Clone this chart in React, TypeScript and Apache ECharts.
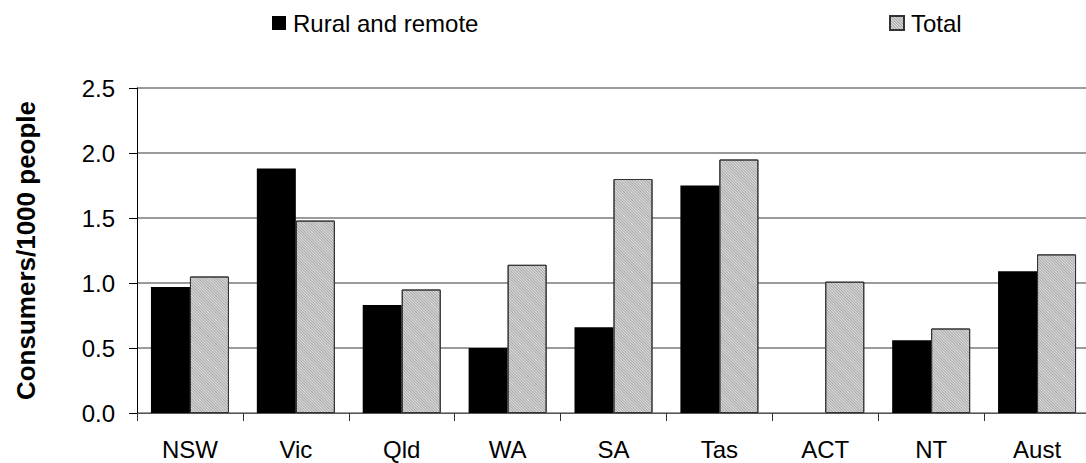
import React, { useEffect, useRef } from 'react';
import * as echarts from 'echarts';

const categories = ['NSW', 'Vic', 'Qld', 'WA', 'SA', 'Tas', 'ACT', 'NT', 'Aust'];
const ruralRemote: (number | null)[] = [0.97, 1.88, 0.83, 0.5, 0.66, 1.75, null, 0.56, 1.09];
const totalValues: number[] = [1.05, 1.48, 0.95, 1.14, 1.8, 1.95, 1.01, 0.65, 1.22];
const seriesNames = ['Rural and remote', 'Total'];
const yAxisTitle = 'Consumers/1000 people';
const yMin = 0;
const yMax = 2.5;
const yStep = 0.5;

const FONT = '"Liberation Sans", Arial, Helvetica, sans-serif';

export default function App() {
  const ref = useRef<HTMLDivElement>(null);
  useEffect(() => {
    if (!ref.current) return;
    const chart = echarts.init(ref.current, undefined, { renderer: 'svg' });
    const hatch = {
      symbol: 'rect',
      symbolSize: 1,
      color: 'rgba(70,70,70,0.38)',
      dashArrayX: [1, 0],
      dashArrayY: [1, 1],
      rotation: Math.PI / 4,
    };
    const legendText = { fontSize: 24, color: '#000', fontFamily: FONT, padding: [0, 0, 0, 2] };
    chart.setOption({
      animation: false,
      backgroundColor: '#ffffff',
      textStyle: { fontFamily: FONT },
      legend: [
        {
          data: [seriesNames[0]],
          left: 267,
          top: 6,
          icon: 'rect',
          itemWidth: 14,
          itemHeight: 14,
          textStyle: legendText,
        },
        {
          data: [seriesNames[1]],
          left: 884,
          top: 6,
          icon: 'rect',
          itemWidth: 14,
          itemHeight: 14,
          textStyle: legendText,
        },
      ],
      grid: {
        left: 137,
        right: -4,
        top: 88,
        bottom: 50,
        containLabel: false,
        outerBoundsMode: 'none',
      },
      xAxis: {
        type: 'category',
        data: categories,
        axisLine: { show: true, lineStyle: { color: '#555', width: 1 } },
        axisTick: { show: true, length: 8, lineStyle: { color: '#333' } },
        axisLabel: { fontSize: 24, color: '#000', margin: 24, fontFamily: FONT },
        splitLine: { show: false },
      },
      yAxis: {
        type: 'value',
        min: yMin,
        max: yMax,
        interval: yStep,
        name: yAxisTitle,
        nameLocation: 'middle',
        nameGap: 98,
        nameRotate: 90,
        nameTextStyle: { fontSize: 26, fontWeight: 'bold', color: '#000', fontFamily: FONT },
        axisLine: { show: true, lineStyle: { color: '#000', width: 1 } },
        axisTick: { show: true, length: 8, lineStyle: { color: '#000' } },
        axisLabel: {
          fontSize: 24,
          color: '#000',
          margin: 22,
          fontFamily: FONT,
          formatter: (v: number) => v.toFixed(1),
        },
        splitLine: { show: true, lineStyle: { color: '#7a7a7a', width: 1.5 } },
      },
      series: [
        {
          name: seriesNames[0],
          type: 'bar',
          data: ruralRemote,
          barWidth: 39,
          barGap: '0%',
          itemStyle: { color: '#000000' },
        },
        {
          name: seriesNames[1],
          type: 'bar',
          data: totalValues,
          barWidth: 39,
          barGap: '0%',
          itemStyle: {
            color: '#e0e0e0',
            borderColor: '#333',
            borderWidth: 1,
            decal: hatch,
          },
        },
      ],
    });
    return () => chart.dispose();
  }, []);
  return (
    <div style={{ position: 'fixed', left: 0, top: 0, width: 1086, height: 463, overflow: 'hidden', background: '#fff' }}>
      <div ref={ref} style={{ width: 1086, height: 463 }} />
    </div>
  );
}
